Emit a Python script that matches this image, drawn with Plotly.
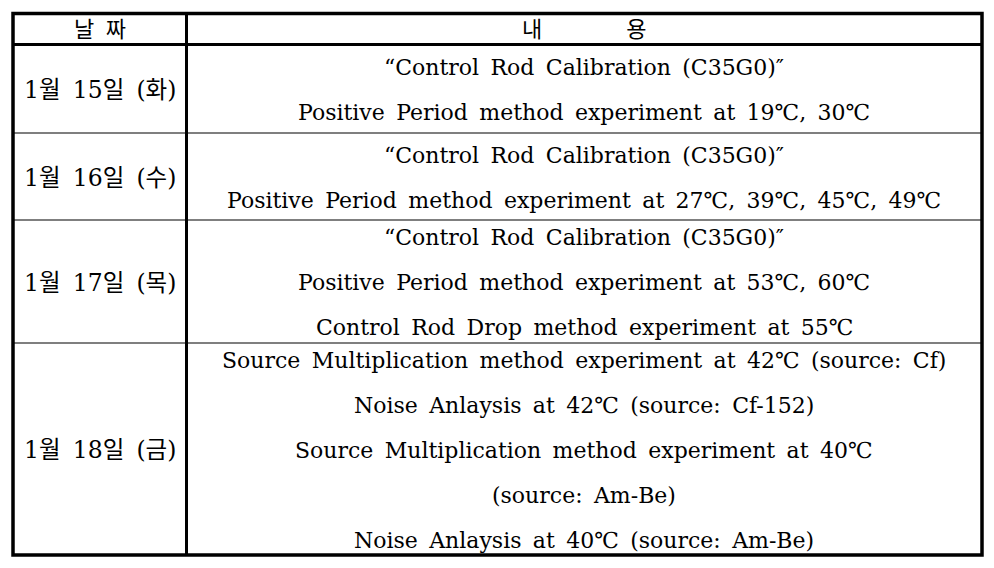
import plotly.graph_objs as go

# table content
header = ["날\u00a0\u2009짜", "내" + "\u00a0" * 12 + "용"]
dates = ["1월 15일 (화)", "1월 16일 (수)", "1월 17일 (목)", "1월 18일 (금)"]
contents = [
    ["\u201cControl Rod Calibration (C35G0)\u2033",
     "Positive Period method experiment at 19℃, 30℃"],
    ["\u201cControl Rod Calibration (C35G0)\u2033",
     "Positive Period method experiment at 27℃, 39℃, 45℃, 49℃"],
    ["\u201cControl Rod Calibration (C35G0)\u2033",
     "Positive Period method experiment at 53℃, 60℃",
     "Control Rod Drop method experiment at 55℃"],
    ["Source Multiplication method experiment at 42℃ (source: Cf)",
     "Noise Anlaysis at 42℃ (source: Cf-152)",
     "Source Multiplication method experiment at 40℃",
     "(source: Am-Be)",
     "Noise Anlaysis at 40℃ (source: Am-Be)"],
]


def wide(s):
    # the original font has much wider word gaps
    return s.replace(" ", " \u2009")


# table geometry (pixels of the page)
left, mid, right = 13, 186.5, 982
top, head_bot = 13.5, 44.5
row_edges = [44.5, 133, 220, 343, 555]
line_gap = 45
off = 8  # page body margin

font = dict(family="DejaVu Serif, Noto Sans CJK KR", size=22, color="black")
date_font = dict(font, size=23.5)

shapes = []
annotations = []

shapes.append(dict(type="rect", x0=left, x1=right, y0=top, y1=row_edges[-1],
                   line=dict(color="black", width=3.5)))
shapes.append(dict(type="line", x0=left, x1=right, y0=head_bot, y1=head_bot,
                   line=dict(color="black", width=3)))
shapes.append(dict(type="line", x0=mid, x1=mid, y0=top, y1=row_edges[-1],
                   line=dict(color="black", width=3)))
for y in row_edges[1:-1]:
    shapes.append(dict(type="line", x0=left, x1=right, y0=y, y1=y,
                       line=dict(color="black", width=1.2)))

annotations.append(dict(x=(left + mid) / 2, y=(top + head_bot) / 2, text=header[0],
                        showarrow=False, font=font))
annotations.append(dict(x=(mid + right) / 2, y=(top + head_bot) / 2, text=header[1],
                        showarrow=False, font=font))

for i, (d, lines) in enumerate(zip(dates, contents)):
    y0, y1 = row_edges[i], row_edges[i + 1]
    c = (y0 + y1) / 2 + 1
    annotations.append(dict(x=(left + mid) / 2, y=c, text=wide(d),
                            showarrow=False, font=date_font))
    n = len(lines)
    for j, t in enumerate(lines):
        yy = c + (j - (n - 1) / 2) * line_gap
        annotations.append(dict(x=(mid + right) / 2, y=yy, text=wide(t),
                                showarrow=False, font=font))

for a in annotations:
    a["xref"] = "x"
    a["yref"] = "y"
for s in shapes:
    s["xref"] = "x"
    s["yref"] = "y"

layout = go.Layout(width=994 - off, height=568 - off,
                   margin=dict(l=0, r=0, t=0, b=0),
                   paper_bgcolor="white", plot_bgcolor="white",
                   xaxis=dict(range=[off, 994], visible=False, fixedrange=True),
                   yaxis=dict(range=[568, off], visible=False, fixedrange=True),
                   shapes=shapes, annotations=annotations, showlegend=False)

fig = go.Figure(data=[], layout=layout)
fig.write_html("out.html")
